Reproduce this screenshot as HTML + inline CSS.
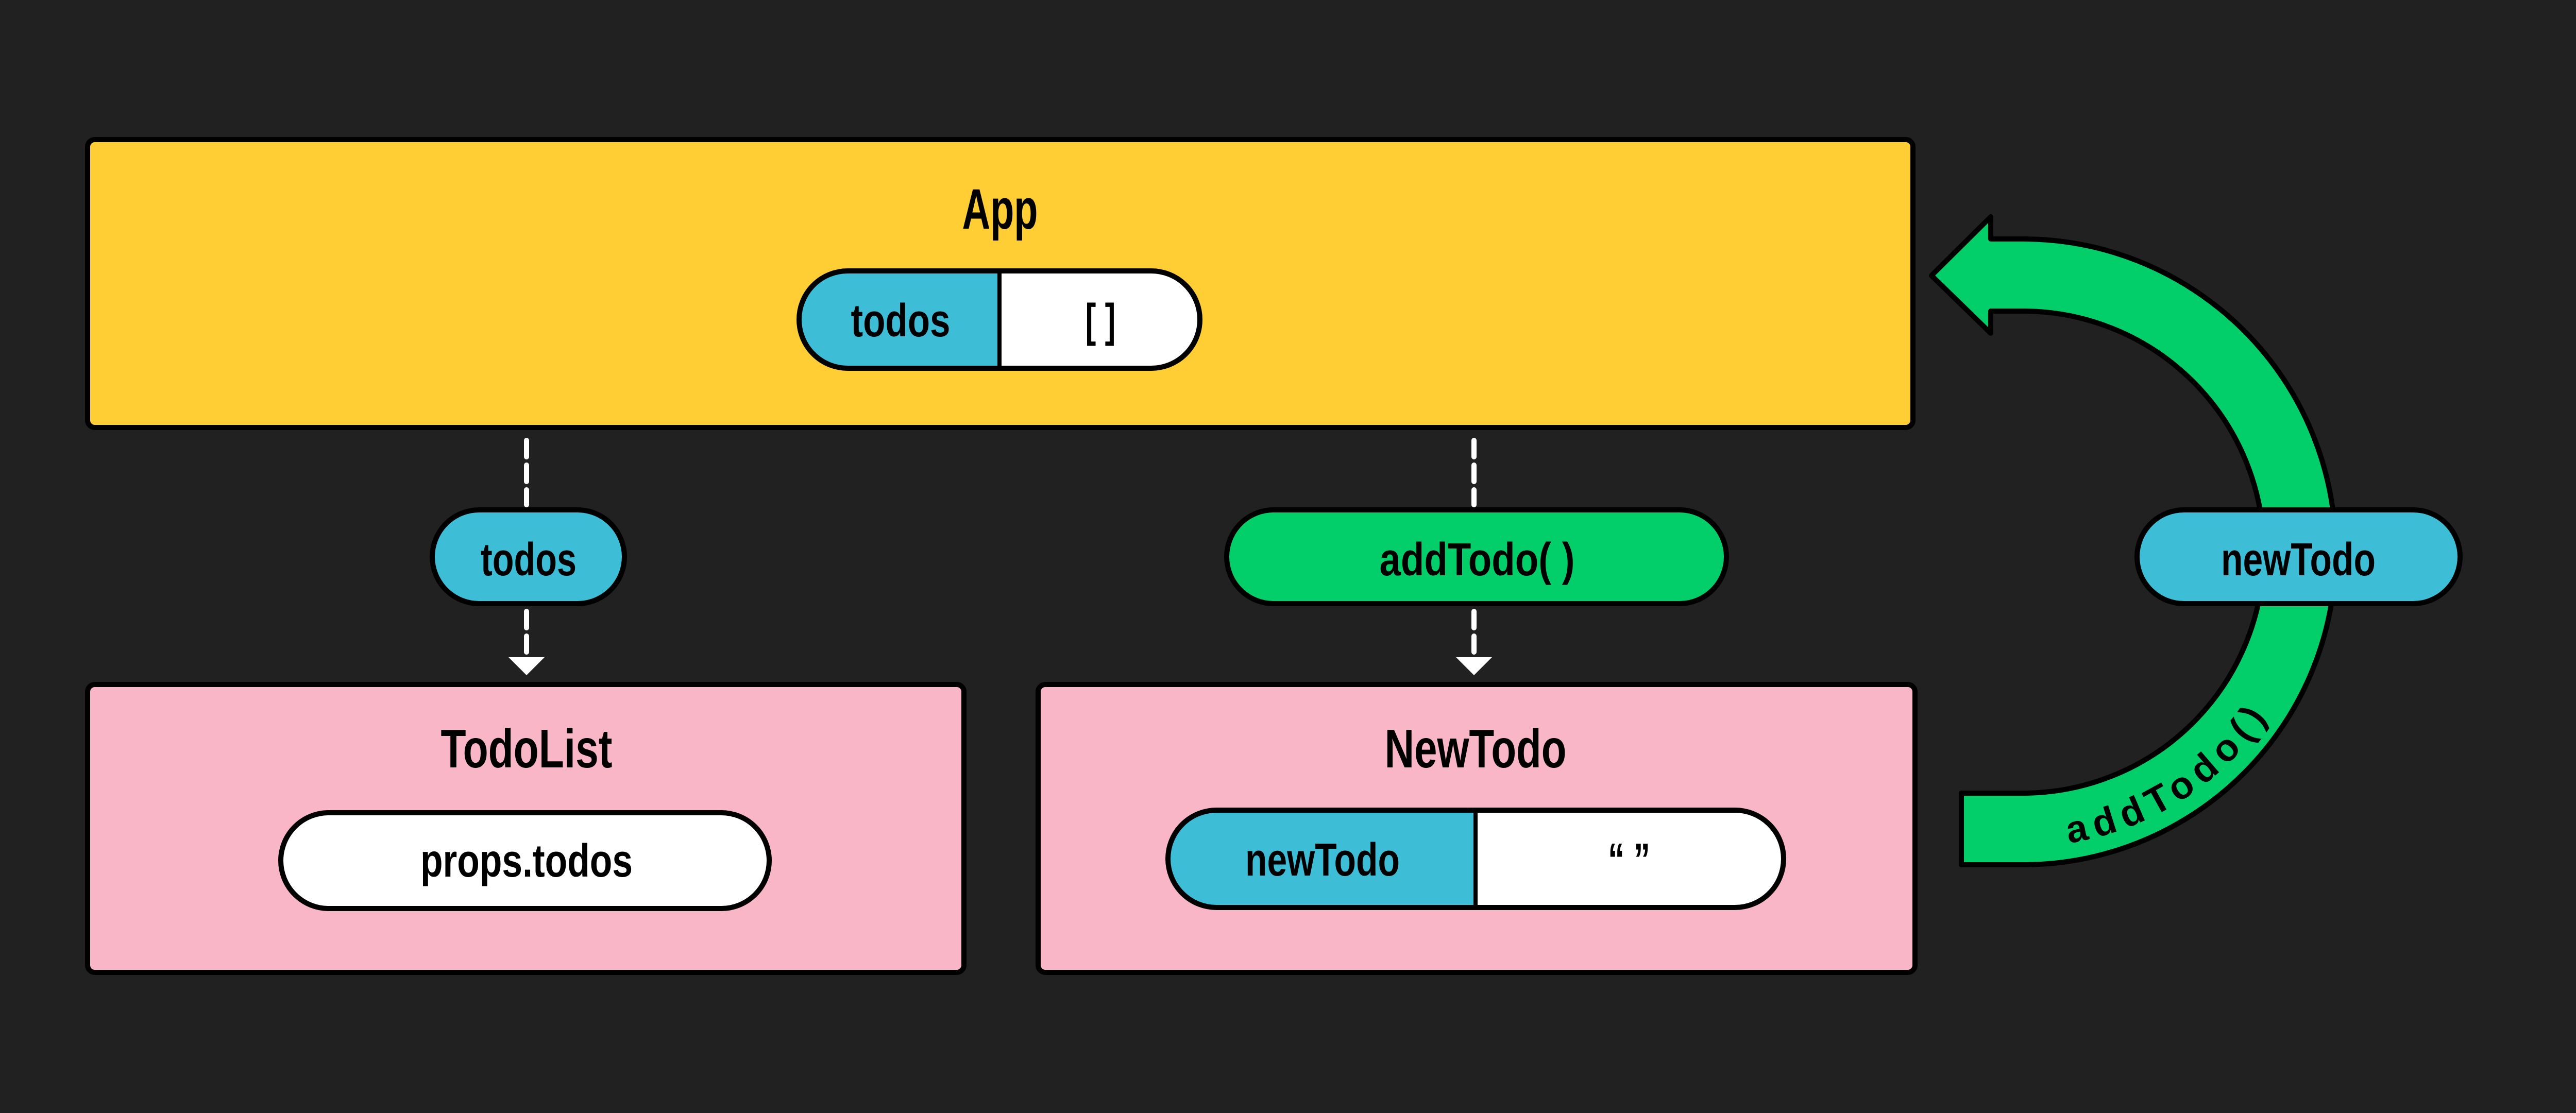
<!DOCTYPE html>
<html><head><meta charset="utf-8"><style>
html,body{margin:0;padding:0;background:#212121;}
svg{display:block}
text{font-family:"Liberation Sans Narrow","Liberation Sans",sans-serif;font-weight:bold;fill:#000;}
</style></head><body>
<svg width="5121" height="2161" viewBox="0 0 5121 2161" xmlns="http://www.w3.org/2000/svg">
<rect width="5121" height="2161" fill="#212121"/>

<!-- App box -->
<rect x="170" y="271" width="3543" height="559" rx="14" fill="#FFCE34" stroke="#000" stroke-width="10"/>
<text x="1941" y="444" font-size="110" text-anchor="middle" textLength="147" lengthAdjust="spacingAndGlyphs">App</text>
<path d="M1645,526 H1940 V715 H1645 A94.5,94.5 0 0 1 1645,526 Z" fill="#3DBDD6"/>
<path d="M1940,526 H2235 A94.5,94.5 0 0 1 2235,715 H1940 Z" fill="#fff"/>
<rect x="1551" y="526" width="778" height="189" rx="94.5" fill="none" stroke="#000" stroke-width="10"/>
<line x1="1940" y1="526" x2="1940" y2="715" stroke="#000" stroke-width="8"/>
<text x="1748" y="653" font-size="90" text-anchor="middle" textLength="193" lengthAdjust="spacingAndGlyphs">todos</text>
<text x="2136" y="653" font-size="90" text-anchor="middle" textLength="59" lengthAdjust="spacingAndGlyphs">[ ]</text>

<!-- dashed connectors -->
<g stroke="#fff" stroke-width="10" stroke-linecap="round" stroke-dasharray="32 16" fill="none">
<line x1="1022" y1="855" x2="1022" y2="980"/>
<line x1="1022" y1="1187" x2="1022" y2="1266"/>
<line x1="2861" y1="855" x2="2861" y2="980"/>
<line x1="2861" y1="1187" x2="2861" y2="1266"/>
</g>
<polygon points="987,1276 1057,1276 1022,1311" fill="#fff"/>
<polygon points="2826,1276 2896,1276 2861,1311" fill="#fff"/>

<!-- todos pill -->
<rect x="839" y="990" width="373" height="182" rx="91" fill="#3DBDD6" stroke="#000" stroke-width="10"/>
<text x="1026" y="1117" font-size="90" text-anchor="middle" textLength="186" lengthAdjust="spacingAndGlyphs">todos</text>

<!-- addTodo pill -->
<rect x="2381" y="990" width="970" height="182" rx="91" fill="#02CF6A" stroke="#000" stroke-width="10"/>
<text x="2867" y="1117" font-size="90" text-anchor="middle" textLength="379" lengthAdjust="spacingAndGlyphs">addTodo( )</text>

<!-- TodoList box -->
<rect x="170" y="1329" width="1701" height="559" rx="14" fill="#F8B6C6" stroke="#000" stroke-width="10"/>
<text x="1022" y="1490" font-size="106" text-anchor="middle" textLength="333" lengthAdjust="spacingAndGlyphs">TodoList</text>
<rect x="545" y="1578" width="948" height="186" rx="93" fill="#fff" stroke="#000" stroke-width="10"/>
<text x="1022" y="1702" font-size="90" text-anchor="middle" textLength="412" lengthAdjust="spacingAndGlyphs">props.todos</text>

<!-- NewTodo box -->
<rect x="2015" y="1329" width="1702" height="559" rx="14" fill="#F8B6C6" stroke="#000" stroke-width="10"/>
<text x="2864" y="1490" font-size="106" text-anchor="middle" textLength="353" lengthAdjust="spacingAndGlyphs">NewTodo</text>
<path d="M2362,1573 H2864 V1762 H2362 A94.5,94.5 0 0 1 2362,1573 Z" fill="#3DBDD6"/>
<path d="M2864,1573 H3367 A94.5,94.5 0 0 1 3367,1762 H2864 Z" fill="#fff"/>
<rect x="2267" y="1573" width="1195" height="189" rx="94.5" fill="none" stroke="#000" stroke-width="10"/>
<line x1="2864" y1="1573" x2="2864" y2="1762" stroke="#000" stroke-width="8"/>
<text x="2567" y="1700" font-size="90" text-anchor="middle" textLength="300" lengthAdjust="spacingAndGlyphs">newTodo</text>
<text x="3162" y="1700" font-size="90" text-anchor="middle" textLength="82" lengthAdjust="spacingAndGlyphs">“ ”</text>

<!-- green curved arrow -->
<path d="M3749,535 L3864,421 V464 H3926 A607,607 0 0 1 3926,1679 H3807 V1540 H3926 A468,468 0 0 0 3926,604 H3864 V647 Z"
 fill="#02CF6A" stroke="#000" stroke-width="10" stroke-linejoin="round"/>
<path id="arcTxt" d="M3861,1640 A572,572 0 0 0 4460,1280" fill="none"/>
<text font-size="74" letter-spacing="14"><textPath href="#arcTxt" startOffset="155">addTodo()</textPath></text>

<!-- newTodo pill on arrow -->
<rect x="4148" y="990" width="627" height="182" rx="91" fill="#3DBDD6" stroke="#000" stroke-width="10"/>
<text x="4461" y="1117" font-size="90" text-anchor="middle" textLength="300" lengthAdjust="spacingAndGlyphs">newTodo</text>
</svg>
</body></html>
